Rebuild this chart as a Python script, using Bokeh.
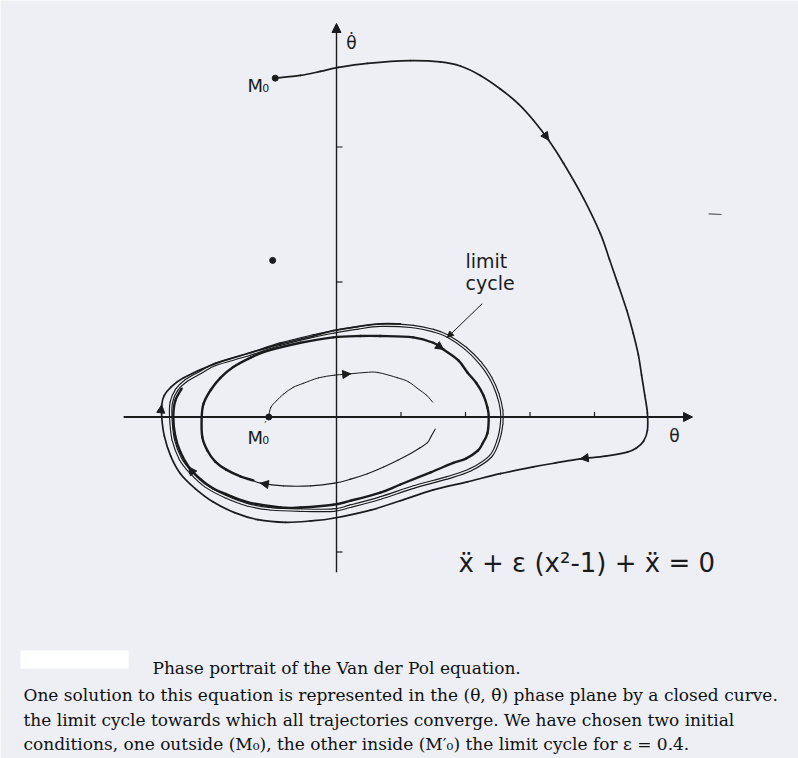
import numpy as np
from bokeh.plotting import figure
from bokeh.models import Arrow, NormalHead, ColumnDataSource, Range1d
from bokeh.core.properties import value
from bokeh.embed import file_html
from bokeh.resources import INLINE

INK = "#1b1b1d"
PAPER = "#edeff4"

# ---------------------------------------------------------------------------
# Phase-plane data (theta, theta_dot); one tick = one unit on each axis
# ---------------------------------------------------------------------------
# closed limit cycle for eps = 0.4
limit_theta = [-2.57, -2.56, -2.48, -2.33, -2.11, -1.88, -1.38, -0.87, -0.36, -0.05,
               0.33, 0.68, 1.19, 1.50, 1.72, 2.00, 2.23, 2.39, 2.50, 2.56,
               2.56, 2.51, 2.39, 2.08, 1.72, 1.19, 0.68, 0.22, -0.05, -0.56,
               -1.02, -1.38, -1.72, -2.03, -2.26, -2.42, -2.53]
limit_dtheta = [0.00, 0.11, 0.20, 0.27, 0.33, 0.39, 0.46, 0.54, 0.60, 0.63,
                0.66, 0.68, 0.67, 0.64, 0.60, 0.51, 0.40, 0.29, 0.17, 0.05,
                -0.05, -0.17, -0.29, -0.39, -0.45, -0.52, -0.60, -0.66, -0.69, -0.69,
                -0.68, -0.65, -0.59, -0.51, -0.41, -0.31, -0.17]

# trajectory starting outside the cycle, at M0
outer_theta = [-0.95, -0.56, -0.25, 0.03, 0.48, 1.15, 1.61, 1.92, 2.23, 2.54,
               2.82, 3.05, 3.29, 3.52, 3.83, 4.09, 4.23, 4.36, 4.50, 4.60,
               4.68, 4.73, 4.78, 4.82, 4.82, 4.76, 4.65, 4.51, 4.17, 3.78,
               3.40, 3.05, 2.54, 2.03, 1.50, 0.99, 0.53, -0.05, -0.40, -0.79,
               -1.22, -1.57, -1.91, -2.19, -2.42, -2.57, -2.67, -2.71, -2.71, -2.67,
               -2.57, -2.37, -1.91, -1.38, -0.87, -0.36, -0.05, 0.33, 0.68, 0.99]
outer_dtheta = [2.51, 2.53, 2.56, 2.59, 2.62, 2.64, 2.63, 2.60, 2.53, 2.43,
                2.32, 2.20, 2.05, 1.88, 1.62, 1.36, 1.17, 0.99, 0.79, 0.62,
                0.46, 0.31, 0.16, 0.03, -0.10, -0.18, -0.23, -0.26, -0.29, -0.31,
                -0.34, -0.37, -0.42, -0.48, -0.54, -0.62, -0.69, -0.75, -0.77, -0.78,
                -0.76, -0.71, -0.63, -0.53, -0.42, -0.29, -0.14, 0.00, 0.09, 0.16,
                0.22, 0.29, 0.39, 0.47, 0.54, 0.60, 0.64, 0.67, 0.69, 0.69]

# trajectory starting inside the cycle, at M0' : first (thin) turn, two arcs
inner_a_theta = [-1.05, -1.02, -0.93, -0.82, -0.67, -0.51, -0.28, -0.03, 0.22, 0.45,
                 0.64, 0.95, 1.12, 1.26, 1.40, 1.49]
inner_a_dtheta = [0.00, 0.07, 0.12, 0.17, 0.22, 0.25, 0.29, 0.31, 0.32, 0.33,
                  0.33, 0.29, 0.26, 0.21, 0.16, 0.11]
inner_b_theta = [1.53, 1.47, 1.41, 1.29, 1.15, 0.95, 0.73, 0.48, 0.22, -0.03,
                 -0.40, -0.82, -1.18, -1.29]
inner_b_dtheta = [-0.09, -0.14, -0.19, -0.23, -0.27, -0.32, -0.37, -0.42, -0.46, -0.49,
                  -0.51, -0.51, -0.49, -0.47]
# ... then the following (heavier) turns closing in on the cycle
inner_c_theta = [-1.29, -1.49, -1.71, -1.88, -2.00, -2.08, -2.09, -2.06, -1.95, -1.80,
                 -1.60, -1.33, -1.07, -0.56, -0.05, 0.37, 0.68, 1.19, 1.50, 1.66,
                 1.89, 2.03, 2.17, 2.28, 2.34, 2.36, 2.34, 2.26, 2.19, 2.00,
                 1.81, 1.46, 0.99, 0.68, 0.22, -0.05, -0.56, -0.87, -1.38, -1.72,
                 -1.91, -2.11, -2.29, -2.42, -2.50, -2.53, -2.50, -2.40]
inner_c_dtheta = [-0.47, -0.44, -0.39, -0.33, -0.25, -0.15, 0.00, 0.10, 0.20, 0.29,
                  0.37, 0.44, 0.49, 0.55, 0.59, 0.60, 0.60, 0.59, 0.55, 0.50,
                  0.42, 0.33, 0.25, 0.16, 0.07, 0.00, -0.12, -0.20, -0.25, -0.31,
                  -0.34, -0.41, -0.50, -0.56, -0.62, -0.65, -0.67, -0.67, -0.63, -0.57,
                  -0.53, -0.46, -0.37, -0.26, -0.14, 0.00, 0.12, 0.21]

# initial conditions
m0 = (-0.95, 2.51)
m0_prime = (-1.05, 0.00)

# axis extent and tick values
theta_axis = (-3.30, 5.52)
dtheta_axis = (-1.15, 2.915)
theta_ticks = [1, 2, 3, 4]
dtheta_ticks = [-1, 1, 2]

X_RANGE = (-5.2093, 7.1628)
Y_RANGE = (-2.5296, 3.0852)


def smooth_path(xs, ys, closed=False):
    """Cubic Bezier pieces (Catmull-Rom tangents) passing through every point."""
    P = np.column_stack([xs, ys]).astype(float)
    n = len(P)
    segs = n if closed else n - 1
    out = {k: [] for k in ("x0", "y0", "x1", "y1", "cx0", "cy0", "cx1", "cy1")}
    for i in range(segs):
        if closed:
            p0, p1, p2, p3 = P[(i - 1) % n], P[i], P[(i + 1) % n], P[(i + 2) % n]
        else:
            p0 = P[i - 1] if i > 0 else P[i]
            p1, p2 = P[i], P[i + 1]
            p3 = P[i + 2] if i + 2 < n else P[i + 1]
        c1 = p1 + (p2 - p0) / 6.0
        c2 = p2 - (p3 - p1) / 6.0
        out["x0"].append(p1[0]); out["y0"].append(p1[1])
        out["x1"].append(p2[0]); out["y1"].append(p2[1])
        out["cx0"].append(c1[0]); out["cy0"].append(c1[1])
        out["cx1"].append(c2[0]); out["cy1"].append(c2[1])
    return ColumnDataSource(out)


def head_source(xs, ys, idx):
    """Arrow-head anchors pointing along the local direction of travel."""
    xs = np.asarray(xs, float); ys = np.asarray(ys, float)
    d = {"xs": [], "ys": [], "xe": [], "ye": []}
    for i in idx:
        dx = xs[i + 1] - xs[i - 1]
        dy = ys[i + 1] - ys[i - 1]
        d["xs"].append(xs[i] - 0.25 * dx); d["ys"].append(ys[i] - 0.25 * dy)
        d["xe"].append(xs[i]); d["ye"].append(ys[i])
    return ColumnDataSource(d)


def add_heads(p, src, size=8):
    p.add_layout(Arrow(source=src, x_start="xs", y_start="ys", x_end="xe", y_end="ye",
                       line_alpha=0.0,
                       end=NormalHead(size=size, fill_color=INK, line_color=INK, line_width=1)))


p = figure(width=798, height=758, output_backend="svg", toolbar_location=None,
           x_range=Range1d(*X_RANGE), y_range=Range1d(*Y_RANGE),
           x_axis_type=None, y_axis_type=None, min_border=0,
           background_fill_color=PAPER, border_fill_color=PAPER,
           outline_line_color=None)
p.grid.visible = False

# ---- coordinate axes ------------------------------------------------------
p.add_layout(Arrow(x_start=theta_axis[0], y_start=0, x_end=theta_axis[1], y_end=0,
                   line_color=INK, line_width=2.0,
                   end=NormalHead(size=9, fill_color=INK, line_color=INK)))
p.add_layout(Arrow(x_start=0, y_start=dtheta_axis[0], x_end=0, y_end=dtheta_axis[1],
                   line_color=INK, line_width=1.4,
                   end=NormalHead(size=9, fill_color=INK, line_color=INK)))
TICK_DY = 5 / 135.0
TICK_DX = 6 / 64.5
p.segment(x0=theta_ticks, y0=[0] * len(theta_ticks), x1=theta_ticks,
          y1=[TICK_DY] * len(theta_ticks), line_color=INK, line_width=1.2)
p.segment(x0=[0] * len(dtheta_ticks), y0=dtheta_ticks, x1=[TICK_DX] * len(dtheta_ticks),
          y1=dtheta_ticks, line_color=INK, line_width=1.2)

# ---- limit cycle drawn as a double line ----------------------------------
lc = smooth_path(limit_theta, limit_dtheta, closed=True)
p.bezier(x0="x0", y0="y0", x1="x1", y1="y1", cx0="cx0", cy0="cy0", cx1="cx1", cy1="cy1",
         source=lc, line_color=INK, line_width=3.6, line_cap="round")
p.bezier(x0="x0", y0="y0", x1="x1", y1="y1", cx0="cx0", cy0="cy0", cx1="cx1", cy1="cy1",
         source=lc, line_color=PAPER, line_width=1.3, line_cap="round")

# ---- trajectories -------------------------------------------------------
for xs, ys, w in [(inner_a_theta, inner_a_dtheta, 1.0),
                  (inner_b_theta, inner_b_dtheta, 1.1),
                  (inner_c_theta, inner_c_dtheta, 2.4),
                  (outer_theta, outer_dtheta, 1.7)]:
    src = smooth_path(xs, ys)
    p.bezier(x0="x0", y0="y0", x1="x1", y1="y1", cx0="cx0", cy0="cy0", cx1="cx1", cy1="cy1",
             source=src, line_color=INK, line_width=w, line_cap="round")

add_heads(p, head_source(outer_theta, outer_dtheta, [12, 29, 48]), size=8)
add_heads(p, head_source(inner_a_theta, inner_a_dtheta, [8]), size=8)
add_heads(p, head_source(inner_b_theta, inner_b_dtheta, [12]), size=8)
add_heads(p, head_source(inner_c_theta, inner_c_dtheta, [19, 42]), size=8)

# initial points and a loose ink dot
p.scatter([m0[0], m0_prime[0]], [m0[1], m0_prime[1]], size=6, color=INK)
p.scatter([-0.99], [1.16], size=6, color=INK)
p.segment(x0=[5.77], y0=[1.505], x1=[5.97], y1=[1.50], line_color="#555555", line_width=1.2)

# ---- labels ---------------------------------------------------------------
SANS = value("DejaVu Sans")
SERIF = value("DejaVu Serif")

p.text(x=[0.23], y=[2.767], text=["\u03b8\u0307"], text_font=SANS, text_font_size="17px",
       text_color=INK, text_align="center", text_baseline="alphabetic")
p.text(x=[5.24], y=[-0.144], text=["\u03b8"], text_font=SANS, text_font_size="17px",
       text_color=INK, text_align="center", text_baseline="middle")

p.text(x=[-1.38], y=[2.456], text=["M"], text_font=SANS, text_font_size="18px",
       text_color=INK, text_baseline="alphabetic")
p.text(x=[-1.15], y=[2.44], text=["0"], text_font=SANS, text_font_size="11px",
       text_color=INK, text_baseline="alphabetic")
p.text(x=[-1.38], y=[-0.152], text=["M"], text_font=SANS, text_font_size="18px",
       text_color=INK, text_baseline="alphabetic")
p.text(x=[-1.15], y=[-0.167], text=["0"], text_font=SANS, text_font_size="11px",
       text_color=INK, text_baseline="alphabetic")
p.text(x=[-1.12], y=[-0.06], text=["\u2032"], text_font=SANS, text_font_size="11px",
       text_color=INK, text_baseline="alphabetic")

p.text(x=[2.0, 2.0], y=[1.152, 0.996], text=["limit", "cycle"], text_font=SANS,
       text_font_size="19px", text_color=INK, text_baseline="alphabetic")
p.add_layout(Arrow(x_start=2.26, y_start=0.84, x_end=1.72, y_end=0.59,
                   line_color=INK, line_width=1.0,
                   end=NormalHead(size=6, fill_color=INK, line_color=INK)))

p.text(x=[1.89], y=[-1.085], text=["\u1e8d + \u03b5 (x\u00b2-1) + \u1e8d = 0"],
       text_font=SANS, text_font_size="26px", text_color=INK, text_baseline="alphabetic")

# ---- caption --------------------------------------------------------------
p.quad(left=[-4.899], right=[-3.225], top=[-1.730], bottom=[-1.863],
       fill_color="#ffffff", line_color=None)
caption_x = [-2.853, -4.853, -4.853, -4.853]
caption_y = [-1.856, -2.056, -2.241, -2.419]
caption = [
    "Phase portrait of the Van der Pol equation.",
    "One solution to this equation is represented in the (\u03b8, \u03b8\u0307) phase plane by a closed curve.",
    "the limit cycle towards which all trajectories converge. We have chosen two initial",
    "conditions, one outside (M\u2080), the other inside (M\u2032\u2080) the limit cycle for \u03b5 = 0.4.",
]
p.text(x=caption_x, y=caption_y, text=caption, text_font=SERIF, text_font_size="17px",
       text_color="#111111", text_baseline="alphabetic")

open("out.html", "w").write(file_html(p, INLINE))
